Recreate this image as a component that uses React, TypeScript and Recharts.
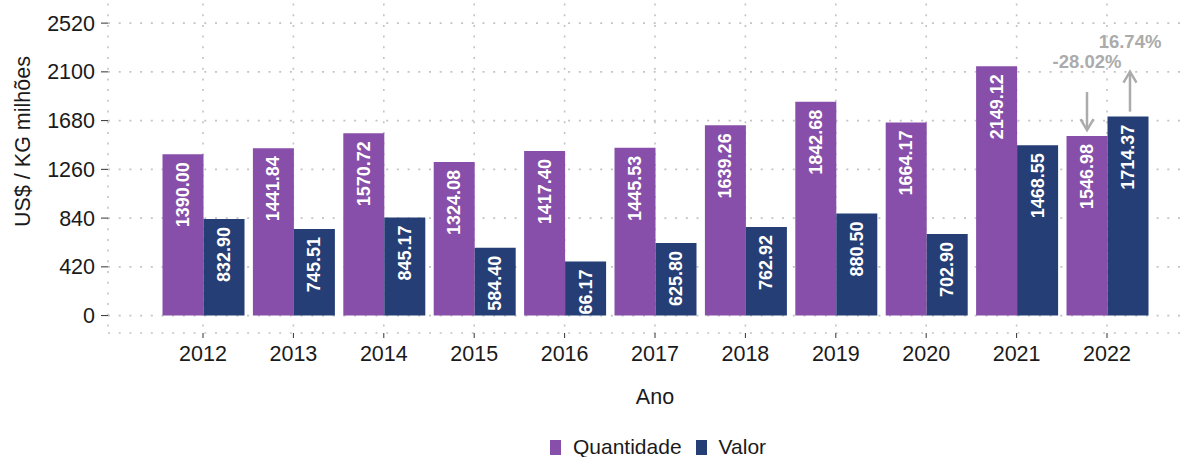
import {
  Bar,
  BarChart,
  CartesianGrid,
  LabelList,
  Legend,
  XAxis,
  YAxis,
} from 'recharts'

const anos = ['2012', '2013', '2014', '2015', '2016', '2017', '2018', '2019', '2020', '2021', '2022']
const quantidade = [1390.0, 1441.84, 1570.72, 1324.08, 1417.4, 1445.53, 1639.26, 1842.68, 1664.17, 2149.12, 1546.98]
const valor = [832.9, 745.51, 845.17, 584.4, 466.17, 625.8, 762.92, 880.5, 702.9, 1468.55, 1714.37]
const quantidadeLabels = ['1390.00', '1441.84', '1570.72', '1324.08', '1417.40', '1445.53', '1639.26', '1842.68', '1664.17', '2149.12', '1546.98']
const valorLabels = ['832.90', '745.51', '845.17', '584.40', '66.17', '625.80', '762.92', '880.50', '702.90', '1468.55', '1714.37']
const yTicks = [0, 420, 840, 1260, 1680, 2100, 2520]

const ROXO = '#874fa9'
const AZUL = '#253e75'
const CINZA = '#ababab'
const FONT = "'Liberation Sans', Arial, sans-serif"

const data = anos.map((ano, i) => ({
  ano,
  quantidade: quantidade[i],
  valor: valor[i],
  qLabel: quantidadeLabels[i],
  vLabel: valorLabels[i],
}))

const last = anos.length - 1
const pct = (arr: number[]) => ((arr[last] - arr[last - 1]) / arr[last - 1]) * 100
const fmtPct = (v: number) => `${v.toFixed(2)}%`

function Arrow({ x, from, to }: { x: number; from: number; to: number }) {
  const dir = to > from ? 1 : -1
  const hb = to - dir * 11
  return (
    <g stroke={CINZA} strokeWidth={2.5} fill="none" strokeLinecap="butt">
      <line x1={x} y1={from} x2={x} y2={to} />
      <polyline points={`${x - 6.5},${hb} ${x},${to} ${x + 6.5},${hb}`} />
    </g>
  )
}

function makeLabel(kind: 'q' | 'v') {
  return (props: any) => {
    const x = Number(props.x)
    const y = Number(props.y)
    const w = Number(props.width)
    const cx = x + w / 2
    const ty = y + 8
    return (
      <g>
        <text
          x={cx}
          y={ty}
          transform={`rotate(-90, ${cx}, ${ty})`}
          textAnchor="end"
          dominantBaseline="central"
          fill="#ffffff"
          fontWeight="bold"
          fontSize={18}
          fontFamily={FONT}
        >
          {props.value}
        </text>
        {props.index === last && (
          <g>
            {kind === 'q' ? (
              <Arrow x={cx} from={y - 44} to={y - 6} />
            ) : (
              <Arrow x={cx + 2} from={y - 5} to={y - 45} />
            )}
            <text
              x={kind === 'q' ? cx : cx + 2}
              y={y - 75}
              textAnchor="middle"
              dominantBaseline="central"
              fill={CINZA}
              fontWeight="bold"
              fontSize={18.5}
              fontFamily={FONT}
            >
              {fmtPct(pct(kind === 'q' ? quantidade : valor))}
            </text>
          </g>
        )}
      </g>
    )
  }
}

function LegendBox() {
  const items = [
    { name: 'Quantidade', color: ROXO },
    { name: 'Valor', color: AZUL },
  ]
  return (
    <div
      style={{
        display: 'flex',
        alignItems: 'center',
        paddingLeft: 550,
        height: 20,
        fontSize: 21,
        color: '#1a1a1a',
        fontFamily: FONT,
      }}
    >
      {items.map((it) => (
        <div key={it.name} style={{ display: 'flex', alignItems: 'center', marginRight: 14 }}>
          <span style={{ display: 'inline-block', width: 11, height: 15, background: it.color, marginRight: 12 }} />
          <span>{it.name}</span>
        </div>
      ))}
    </div>
  )
}

export default function App() {
  return (
    <div
      style={{
        position: 'absolute',
        top: 0,
        left: 0,
        width: 1185,
        height: 457,
        overflow: 'hidden',
        background: '#fff',
        fontFamily: FONT,
      }}
    >
      <div style={{ position: 'absolute', top: -60, left: 0 }}>
        <BarChart
          width={1215}
          height={517}
          data={data}
          margin={{ top: 10, right: 13, bottom: 0, left: 0 }}
          barCategoryGap={4.7}
          barGap={0}
        >
          <CartesianGrid stroke="#c4c4c4" strokeWidth={1.6} strokeDasharray="2 8.7" />
          <XAxis
            dataKey="ano"
            height={104}
            padding={{ left: 49.8, right: 49.8 }}
            axisLine={false}
            tickSize={5}
            tickMargin={8}
            tickLine={{ stroke: '#333' }}
            tick={{ fill: '#1a1a1a', fontSize: 21.5 }}
            label={({ viewBox }: any) => (
              <text
                x={viewBox.x + viewBox.width / 2}
                y={viewBox.y + 64}
                textAnchor="middle"
                dominantBaseline="central"
                fill="#1a1a1a"
                fontSize={21.5}
                fontFamily={FONT}
              >
                Ano
              </text>
            )}
          />
          <YAxis
            type="number"
            domain={[-150, 3150]}
            ticks={yTicks}
            allowDataOverflow
            width={108}
            axisLine={false}
            tickSize={7}
            tickMargin={6}
            tickLine={{ stroke: '#333' }}
            tick={{ fill: '#1a1a1a', fontSize: 21.5 }}
            label={({ viewBox }: any) => {
              const cy = viewBox.y + viewBox.height / 2
              return (
                <text
                  x={23}
                  y={cy}
                  transform={`rotate(-90, 23, ${cy})`}
                  textAnchor="middle"
                  dominantBaseline="central"
                  fill="#1a1a1a"
                  fontSize={21.5}
                  fontFamily={FONT}
                >
                  US$ / KG milhões
                </text>
              )
            }}
          />
          <Legend verticalAlign="bottom" height={20} content={() => <LegendBox />} />
          <Bar dataKey="quantidade" fill={ROXO} isAnimationActive={false}>
            <LabelList dataKey="qLabel" content={makeLabel('q')} />
          </Bar>
          <Bar dataKey="valor" fill={AZUL} isAnimationActive={false}>
            <LabelList dataKey="vLabel" content={makeLabel('v')} />
          </Bar>
        </BarChart>
      </div>
    </div>
  )
}
